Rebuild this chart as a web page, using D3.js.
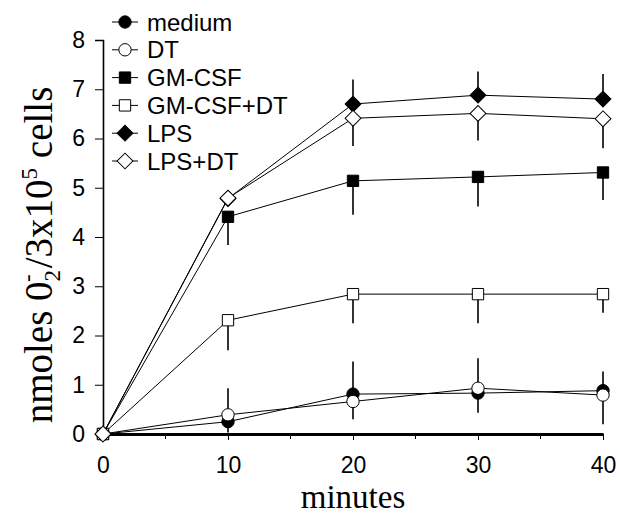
<!DOCTYPE html>
<html>
<head>
<meta charset="utf-8">
<script src="https://cdn.jsdelivr.net/npm/d3@7"></script>
<style>
body { margin: 0; background: #fff; }
.tick text { font-family: "Liberation Sans", Arial, sans-serif; font-size: 23px; fill: #000; }
</style>
</head>
<body>
<svg id="chart"></svg>
<script>
// data
const minutes = [0, 10, 20, 30, 40];
const seriesNames = ["medium", "DT", "GM-CSF", "GM-CSF+DT", "LPS", "LPS+DT"];

const mediumValues = [0, 0.25, 0.81, 0.83, 0.88];
const dtValues = [0, 0.39, 0.66, 0.93, 0.79];
const gmcsfValues = [0, 4.41, 5.14, 5.22, 5.31];
const gmcsfDtValues = [0, 2.31, 2.84, 2.84, 2.84];
const lpsValues = [0, 4.78, 6.70, 6.88, 6.80];
const lpsDtValues = [0, 4.79, 6.41, 6.51, 6.40];

// one sided error bars: positive drawn up, negative drawn down
const mediumErr = [0, -0.22, 0.66, -0.40, 0.39];
const dtErr = [0, 0.54, -0.36, 0.61, -0.59];
const gmcsfErr = [0, -0.57, -0.69, -0.60, -0.56];
const gmcsfDtErr = [0, -0.61, -0.59, -0.59, -0.38];
const lpsErr = [0, 0, 0.50, 0.48, 0.51];
const lpsDtErr = [0, 0, -0.56, -0.55, -0.60];

const xTicks = [0, 10, 20, 30, 40];
const xMinorTicks = [5, 15, 25, 35];
const yTicks = [0, 1, 2, 3, 4, 5, 6, 7, 8];

const width = 620;
const height = 516;
const margin = { top: 40, right: 14, bottom: 82, left: 103 };

const series = [
    { name: seriesNames[0], values: mediumValues, err: mediumErr, shape: "circle", filled: true },
    { name: seriesNames[1], values: dtValues, err: dtErr, shape: "circle", filled: false },
    { name: seriesNames[2], values: gmcsfValues, err: gmcsfErr, shape: "square", filled: true },
    { name: seriesNames[3], values: gmcsfDtValues, err: gmcsfDtErr, shape: "square", filled: false },
    { name: seriesNames[4], values: lpsValues, err: lpsErr, shape: "diamond", filled: true },
    { name: seriesNames[5], values: lpsDtValues, err: lpsDtErr, shape: "diamond", filled: false }
];

const xScale = d3.scaleLinear()
    .domain([0, 40])
    .range([margin.left, width - margin.right - 3]);

const yScale = d3.scaleLinear()
    .domain([0, 8])
    .range([height - margin.bottom, margin.top]);

const svg = d3.select("#chart")
    .attr("width", width)
    .attr("height", height);

function markerPath(shape) {
    if (shape === "circle") return d3.symbol(d3.symbolCircle, 120)();
    return d3.symbol(d3.symbolSquare, shape === "square" ? 128 : 125)();
}

function markerTransform(shape, x, y) {
    return "translate(" + x + "," + y + ")" + (shape === "diamond" ? " rotate(45)" : "");
}

// axes
const yAxis = d3.axisLeft(yScale).tickValues(yTicks).tickSize(8).tickPadding(10);
const yAxisG = svg.append("g")
    .attr("transform", "translate(" + margin.left + ",0)")
    .call(yAxis);
yAxisG.select(".domain").attr("stroke-width", 1.6);
yAxisG.selectAll(".tick line").attr("stroke-width", 1);

const xAxis = d3.axisBottom(xScale).tickValues(xTicks).tickSize(6).tickPadding(17).tickSizeOuter(0);
const xAxisG = svg.append("g")
    .attr("transform", "translate(0," + yScale(0) + ")")
    .call(xAxis);
xAxisG.select(".domain").attr("stroke-width", 3);
xAxisG.selectAll(".tick line").attr("stroke-width", 1);

xAxisG.selectAll(".minor")
    .data(xMinorTicks)
    .enter()
    .append("line")
    .attr("class", "minor")
    .attr("x1", d => xScale(d))
    .attr("x2", d => xScale(d))
    .attr("y1", 0)
    .attr("y2", 5)
    .attr("stroke", "#000");

// lines
const line = d3.line()
    .x((d, i) => xScale(minutes[i]))
    .y(d => yScale(d));

series.forEach(s => {
    svg.append("path")
        .datum(s.values)
        .attr("d", line)
        .attr("fill", "none")
        .attr("stroke", "#000")
        .attr("stroke-width", 1);
});

// error bars
series.forEach(s => {
    const bars = minutes
        .map((m, i) => ({ x: m, y: s.values[i], e: s.err[i] }))
        .filter(d => d.e !== 0);
    svg.selectAll(null)
        .data(bars)
        .enter()
        .append("line")
        .attr("x1", d => xScale(d.x))
        .attr("x2", d => xScale(d.x))
        .attr("y1", d => yScale(d.y))
        .attr("y2", d => yScale(d.y + d.e))
        .attr("stroke", "#000")
        .attr("stroke-width", 1.6);
});

// markers
series.forEach(s => {
    svg.selectAll(null)
        .data(s.values)
        .enter()
        .append("path")
        .attr("d", markerPath(s.shape))
        .attr("transform", (d, i) => markerTransform(s.shape, xScale(minutes[i]), yScale(d)))
        .attr("fill", s.filled ? "#000" : "#fff")
        .attr("stroke", "#000")
        .attr("stroke-width", 1);
});

// legend
const legend = svg.append("g").attr("transform", "translate(112,22)");
series.forEach((s, i) => {
    const row = legend.append("g").attr("transform", "translate(0," + i * 27.8 + ")");
    row.append("line")
        .attr("x1", 0).attr("x2", 26)
        .attr("stroke", "#000").attr("stroke-width", 1);
    row.append("path")
        .attr("d", markerPath(s.shape))
        .attr("transform", markerTransform(s.shape, 13, 0))
        .attr("fill", s.filled ? "#000" : "#fff")
        .attr("stroke", "#000");
    row.append("text")
        .attr("x", 35)
        .attr("dy", "0.36em")
        .style("font-family", "Liberation Sans, Arial, sans-serif")
        .style("font-size", "24px")
        .text(s.name);
});

// axis titles
svg.append("text")
    .attr("x", (xScale(0) + xScale(40)) / 2)
    .attr("y", 508)
    .style("text-anchor", "middle")
    .style("font-family", "Liberation Serif, Times New Roman, serif")
    .style("font-size", "33px")
    .text("minutes");

const yTitle = svg.append("text")
    .attr("transform", "translate(52," + (yScale(4) + 18) + ") rotate(-90)")
    .style("text-anchor", "middle")
    .style("font-family", "Liberation Serif, Times New Roman, serif")
    .style("font-size", "39px");
yTitle.append("tspan").text("nmoles 0");
yTitle.append("tspan").attr("dy", 8).style("font-size", "23px").text("2");
yTitle.append("tspan").attr("dx", -12).attr("dy", -25).style("font-size", "23px").text("-");
yTitle.append("tspan").attr("dx", 6).attr("dy", 17).text("/3x10");
yTitle.append("tspan").attr("dy", -15).style("font-size", "23px").text("5");
yTitle.append("tspan").attr("dy", 15).text(" cells");
</script>
</body>
</html>
